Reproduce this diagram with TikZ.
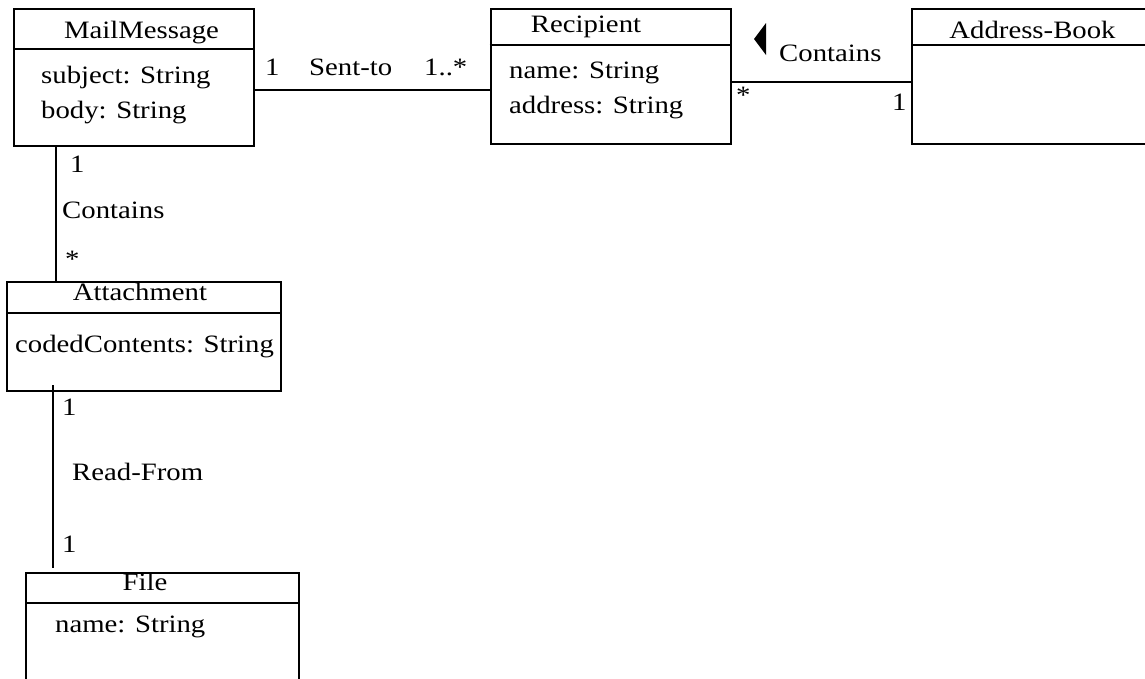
\documentclass[tikz,border=0pt]{standalone}
\usepackage{fontspec}
\setmainfont[FakeStretch=1.15]{Liberation Serif}
\begin{document}
\begin{tikzpicture}[x=1pt,y=-1pt,
  box/.style={draw, line width=2pt, inner sep=0pt},
  rule/.style={line width=2pt},
  txt/.style={inner sep=0pt, anchor=base west, font=\fontsize{25}{29}\selectfont},
  title/.style={txt, anchor=base}]
\path[use as bounding box, clip] (0,0) rectangle (1145,678);

% class boxes
\node[box, minimum width=240pt, minimum height=137pt] (mail) at (134,77.5) {};
\node[box, minimum width=240pt, minimum height=135pt] (rec)  at (610.5,76.5) {};
\node[box, minimum width=260pt, minimum height=135pt] (book) at (1042,76.5) {};
\node[box, minimum width=274pt, minimum height=109pt] (att)  at (144,336.5) {};
\node[box, minimum width=273pt, minimum height=140pt] (file) at (162.5,643) {};

% compartment rules
\draw[rule] (mail.west |- 0,49) -- (mail.east |- 0,49);
\draw[rule] (rec.west |- 0,45) -- (rec.east |- 0,45);
\draw[rule] (book.west |- 0,45) -- (book.east |- 0,45);
\draw[rule] (att.west |- 0,313) -- (att.east |- 0,313);
\draw[rule] (file.west |- 0,603) -- (file.east |- 0,603);

% class names
\node[title] (tMail) at (141.5,38) {MailMessage};
\node[title] (tRec)  at (586,32) {Recipient};
\node[title] (tBook) at (1032.5,38) {Address-Book};
\node[title] (tAtt)  at (140,300) {Attachment};
\node[title] (tFile) at (145,590) {File};

% attributes
\node[txt] (aSubj) at (41,83) {subject: String};
\node[txt] (aBody) at (41,118) {body: String};
\node[txt] (aName) at (509,78) {name: String};
\node[txt] (aAddr) at (509,113) {address: String};
\node[txt] (aCode) at (15,352) {codedContents: String};
\node[txt] (aFile) at (55,632) {name: String};

% associations
\draw[rule] (mail.east |- 0,90) -- (rec.west |- 0,90);
\draw[rule] (rec.east |- 0,82) -- (book.west |- 0,82);
\draw[rule] (mail.south -| 56,0) -- (att.north -| 56,0);
\coordinate (rfStart) at (53,385);
\coordinate (rfEnd) at (53,568);
\draw[rule] (rfStart) -- (rfEnd);

% association labels
\node[txt] (m1)   at (265,75) {1};
\node[txt] (sent) at (309,75) {Sent-to};
\node[txt] (m2)   at (424,75) {1..*};

\fill (754,39) -- (766,23) -- (766,55) -- cycle;
\node[txt] (cont1) at (779,61) {Contains};
\node[txt] (m3)    at (736,103) {*};
\node[txt] (m4)    at (892,110) {1};

\node[txt] (m5)    at (70,172) {1};
\node[txt] (cont2) at (62,218) {Contains};
\node[txt] (m6)    at (65,267) {*};

\node[txt] (m7)    at (62,415) {1};
\node[txt] (read)  at (72,480) {Read-From};
\node[txt] (m8)    at (62,552) {1};
\end{tikzpicture}
\end{document}
